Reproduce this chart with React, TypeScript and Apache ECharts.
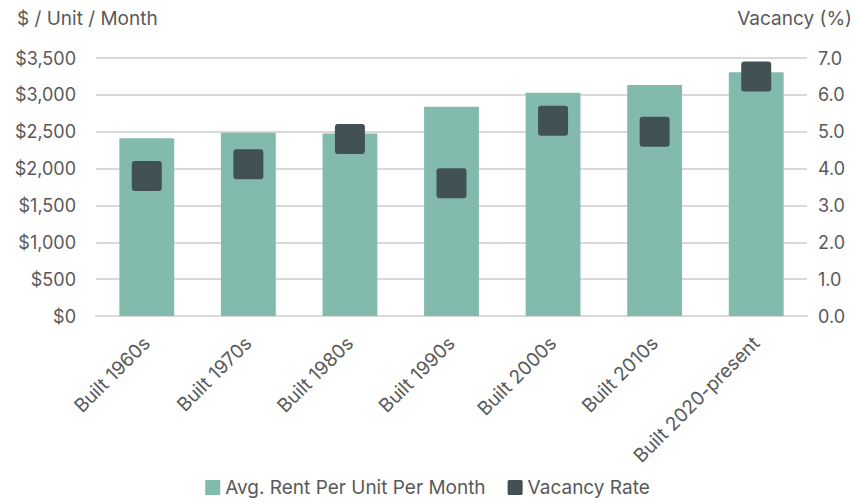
import React, { useEffect, useRef } from "react";
import * as echarts from "echarts";

const categories = [
  "Built 1960s",
  "Built 1970s",
  "Built 1980s",
  "Built 1990s",
  "Built 2000s",
  "Built 2010s",
  "Built 2020-present",
];
const rentValues = [2410, 2485, 2475, 2840, 3030, 3135, 3305];
const vacancyValues = [3.8, 4.12, 4.8, 3.6, 5.3, 5.0, 6.5];
const leftTicks = { min: 0, max: 3500, interval: 500 };
const rightTicks = { min: 0, max: 7, interval: 1 };

const FONT = "Inter, 'Noto Sans', sans-serif";
const TEXT = "#595959";
const FS = 18;
const FS2 = 19;
const SQ = "path://M3,0 H27 Q30,0 30,3 V27 Q30,30 27,30 H3 Q0,30 0,27 V3 Q0,0 3,0 Z";

export default function App() {
  const ref = useRef<HTMLDivElement>(null);
  useEffect(() => {
    if (!ref.current) return;
    const chart = echarts.init(ref.current, null, { renderer: "svg" });
    chart.setOption({
      animation: false,
      textStyle: { fontFamily: FONT, color: TEXT },
      grid: { left: 96, right: 48, top: 58, bottom: 187, containLabel: false },
      graphic: [
        {
          type: "text",
          left: 17,
          top: 9,
          style: { text: "$ / Unit / Month", fontSize: FS2, fill: TEXT, fontFamily: FONT },
        },
        {
          type: "text",
          right: 3,
          top: 9,
          style: { text: "Vacancy (%)", fontSize: FS2, fill: TEXT, fontFamily: FONT },
        },
      ],
      legend: {
        bottom: 1,
        left: "center",
        itemGap: 22,
        itemWidth: 15,
        itemHeight: 15,
        textStyle: { fontSize: FS2, color: TEXT, fontFamily: FONT },
        data: [
          { name: "Avg. Rent Per Unit Per Month", icon: "rect" },
          { name: "Vacancy Rate", icon: SQ },
        ],
      },
      xAxis: {
        type: "category",
        data: categories,
        axisLine: { lineStyle: { color: "#d9d9d9", width: 2 } },
        axisTick: { show: false },
        axisLabel: {
          rotate: 45,
          fontSize: FS2,
          color: TEXT,
          fontFamily: FONT,
          margin: 24,
          interval: 0,
        },
      },
      yAxis: [
        {
          type: "value",
          min: leftTicks.min,
          max: leftTicks.max,
          interval: leftTicks.interval,
          axisLine: { show: false },
          axisTick: { show: false },
          splitLine: { lineStyle: { color: "#d9d9d9", width: 2 } },
          axisLabel: {
            fontSize: FS,
            color: TEXT,
            fontFamily: FONT,
            margin: 20,
            formatter: (v: number) => "$" + v.toLocaleString("en-US"),
          },
        },
        {
          type: "value",
          min: rightTicks.min,
          max: rightTicks.max,
          interval: rightTicks.interval,
          axisLine: { show: false },
          axisTick: { show: false },
          splitLine: { show: false },
          axisLabel: {
            fontSize: FS,
            color: TEXT,
            fontFamily: FONT,
            margin: 11,
            formatter: (v: number) => v.toFixed(1),
          },
        },
      ],
      series: [
        {
          name: "Avg. Rent Per Unit Per Month",
          type: "bar",
          data: rentValues,
          barWidth: "54%",
          itemStyle: { color: "#82bbad" },
          yAxisIndex: 0,
        },
        {
          name: "Vacancy Rate",
          type: "scatter",
          data: vacancyValues,
          yAxisIndex: 1,
          symbol: SQ,
          symbolSize: 30,
          itemStyle: { color: "#415154", opacity: 1 },
          z: 5,
        },
      ],
    });
    return () => chart.dispose();
  }, []);
  return (
    <div
      ref={ref}
      style={{ position: "absolute", left: 0, top: 0, width: 855, height: 503 }}
    />
  );
}
